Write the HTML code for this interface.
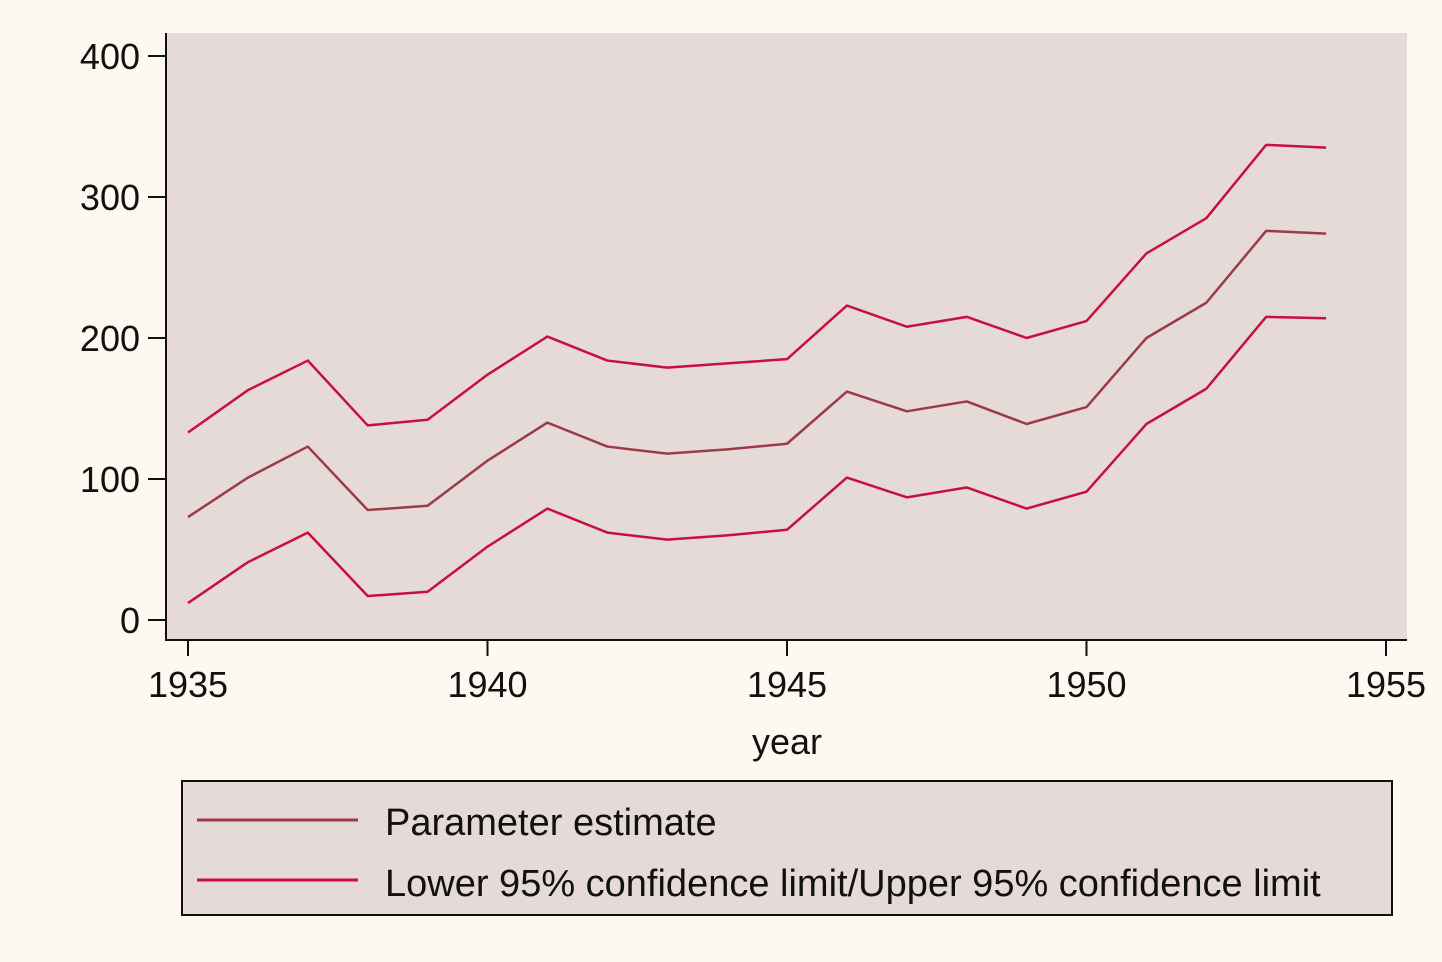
<!DOCTYPE html>
<html><head><meta charset="utf-8"><style>
body{margin:0;background:#fdf9f0;}
svg{display:block;font-family:"Liberation Sans",Arial,sans-serif;}
</style></head><body>
<svg width="1442" height="962">
<rect x="0" y="0" width="1442" height="962" fill="#fdf9f0"/>
<rect x="166" y="33" width="1241" height="607" fill="#e5dad8"/>
<g id="axes"></g>
<g id="series"></g>
<g>
<rect x="182" y="781" width="1210" height="134" fill="#e5dad8" stroke="#111" stroke-width="2"/>
<line x1="197" y1="820" x2="358" y2="820" stroke="#9a3b47" stroke-width="3"/>
<text x="385" y="835" font-size="38" fill="#111">Parameter estimate</text>
<line x1="197" y1="880" x2="358" y2="880" stroke="#c8103e" stroke-width="3"/>
<text x="385" y="896" font-size="38" fill="#111">Lower 95% confidence limit/Upper 95% confidence limit</text>
</g>
</svg>
<script>
const years=[1935,1936,1937,1938,1939,1940,1941,1942,1943,1944,1945,1946,1947,1948,1949,1950,1951,1952,1953,1954];
const estimate=[73,101,123,78,81,113,140,123,118,121,125,162,148,155,139,151,200,225,276,274];
const upper=[133,163,184,138,142,174,201,184,179,182,185,223,208,215,200,212,260,285,337,335];
const lower=[12,41,62,17,20,52,79,62,57,60,64,101,87,94,79,91,139,164,215,214];
const yTicks=[0,100,200,300,400];
const xTicks=[1935,1940,1945,1950,1955];
const NS="http://www.w3.org/2000/svg";
function xs(v){return 188+(v-1935)*59.9;}
function ys(v){return 620-v*1.41;}
function mk(tag,attrs,parent){const e=document.createElementNS(NS,tag);for(const k in attrs)e.setAttribute(k,attrs[k]);parent.appendChild(e);return e;}
const ax=document.getElementById('axes');
let l=mk('line',{x1:166,y1:33,x2:166,y2:641,stroke:'#111','stroke-width':2},ax);


l=mk('line',{x1:165,y1:640,x2:1407,y2:640,stroke:'#111','stroke-width':2},ax);


yTicks.forEach(t=>{
 const tk=mk('line',{x1:148,y1:ys(t),x2:166,y2:ys(t),stroke:'#111','stroke-width':2},ax);
 
 
 const tx=mk('text',{x:140,y:ys(t)+13,'font-size':36,'text-anchor':'end',fill:'#111'},ax);
 tx.textContent=t;
 
 
});
xTicks.forEach(t=>{
 const tk=mk('line',{x1:xs(t),y1:640,x2:xs(t),y2:656,stroke:'#111','stroke-width':2},ax);
 
 
 const tx=mk('text',{x:xs(t),y:697,'font-size':36,'text-anchor':'middle',fill:'#111'},ax);
 tx.textContent=t;
 
 
});
const xt=mk('text',{x:787,y:754,'font-size':36,'text-anchor':'middle',fill:'#111'},ax);
xt.textContent='year';


const sg=document.getElementById('series');
function line(vals,color,name){
 const p=mk('polyline',{points:vals.map((v,i)=>xs(years[i])+','+ys(v)).join(' '),fill:'none',stroke:color,'stroke-width':2.5,'stroke-linejoin':'round'},sg);
 
 
}
line(upper,'#c8103e','upper-ci-line');
line(lower,'#c8103e','lower-ci-line');
line(estimate,'#9a3b47','estimate-line');
</script>
</body></html>
